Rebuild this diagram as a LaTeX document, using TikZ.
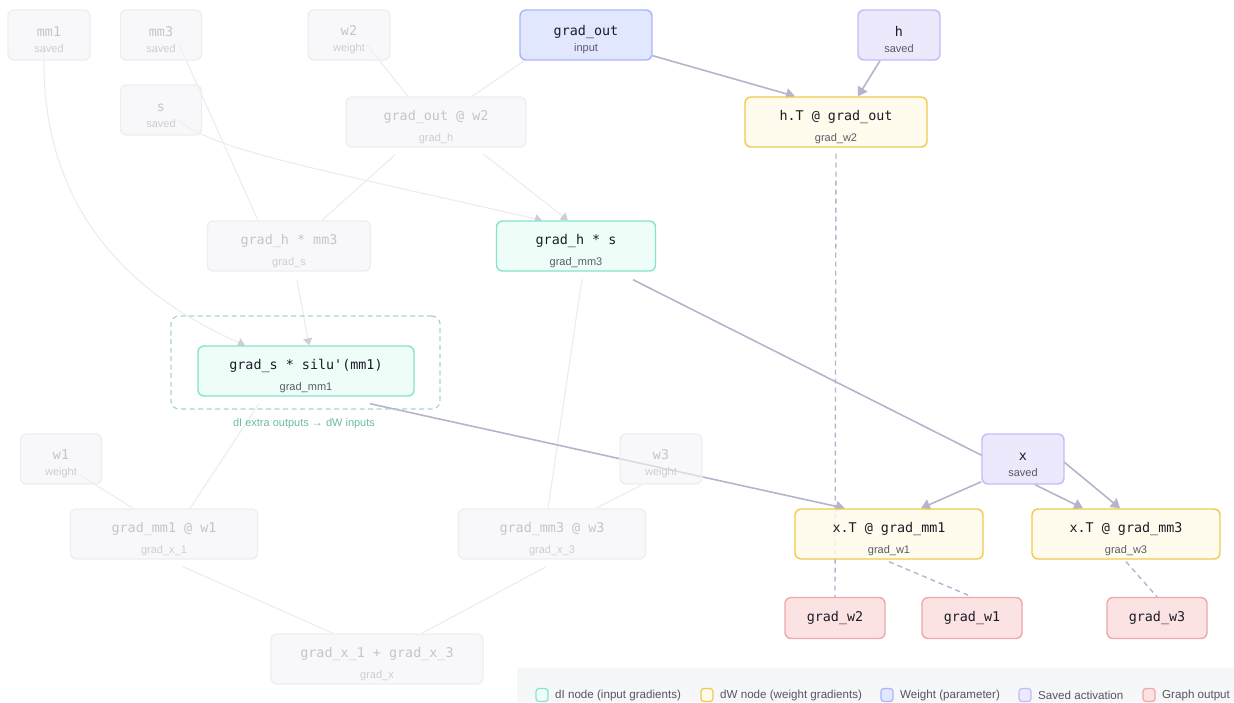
\documentclass[tikz,border=0pt]{standalone}
\usepackage{fontspec}
\setmainfont{Liberation Sans}
\setmonofont{DejaVu Sans Mono}
\usetikzlibrary{arrows.meta}

\definecolor{cDiLine}{HTML}{86E3CD}
\definecolor{cDiFill}{HTML}{EFFDF8}
\definecolor{cDwLine}{HTML}{F2C94F}
\definecolor{cDwFill}{HTML}{FFFBEA}
\definecolor{cWtLine}{HTML}{A8B5FA}
\definecolor{cWtFill}{HTML}{E1E7FE}
\definecolor{cSvLine}{HTML}{C6B8FA}
\definecolor{cSvFill}{HTML}{EDE9FD}
\definecolor{cGoLine}{HTML}{EFA8A8}
\definecolor{cGoFill}{HTML}{FCE3E3}
\definecolor{cFdLine}{HTML}{EEEEF2}
\definecolor{cFdFill}{HTML}{F4F4F7}
\definecolor{cFdText}{HTML}{C4C4CA}
\definecolor{cFdSub}{HTML}{CDCDD2}
\definecolor{cEdge}{HTML}{B4B4CC}
\definecolor{cFdEdge}{HTML}{ECECEF}
\definecolor{cFdTip}{HTML}{CDCDDA}
\definecolor{cInk}{HTML}{1C1C28}
\definecolor{cSub}{HTML}{5A5A66}
\definecolor{cGrp}{HTML}{A9D4C9}
\definecolor{cCap}{HTML}{6BBBA5}
\definecolor{cLegBg}{HTML}{F6F7F9}
\definecolor{cLegText}{HTML}{55555F}

\newcommand{\monof}{\fontsize{13.4}{16}\selectfont\ttfamily}
\newcommand{\subf}{\fontsize{11}{13}\selectfont\rmfamily}
\newcommand{\legf}{\fontsize{11.6}{14}\selectfont\rmfamily}
\newcommand{\subc}{cSub}
% two-line node label: code on top, tensor name below
\newcommand{\nlab}[3][5pt]{\rule{0pt}{19.5pt}#2\\[#1]{\subf\color{\subc}#3}}

\pgfdeclarelayer{edges}
\pgfsetlayers{edges,main}

\begin{document}
\begin{tikzpicture}[x=1pt, y=-1pt,
  box/.style={rounded corners=6pt, line width=1.4pt, minimum height=50pt,
    inner sep=0pt, align=center, font=\monof, text=cInk},
  dinode/.style={box, draw=cDiLine, fill=cDiFill},
  dwnode/.style={box, draw=cDwLine, fill=cDwFill, fill opacity=0.85, text opacity=1},
  wtnode/.style={box, draw=cWtLine, fill=cWtFill},
  svnode/.style={box, draw=cSvLine, fill=cSvFill},
  gonode/.style={box, draw=cGoLine, fill=cGoFill, minimum height=41pt, minimum width=100pt},
  fdnode/.style={box, draw=cFdLine, fill=cFdFill, fill opacity=0.6, text opacity=1,
    text=cFdText, execute at begin node={\def\subc{cFdSub}}},
  fdedge/.style={draw=cFdEdge, line width=1.1pt},
  fdarr/.style={fdedge, -{Triangle[width=9pt,length=7pt,color=cFdTip]}},
  flow/.style={draw=cEdge, line width=1.6pt, -{Triangle[width=11pt,length=9pt]}},
  dashflow/.style={draw=cEdge, line width=1.4pt, dash pattern=on 5pt off 4pt},
  ]
\useasboundingbox (0,0) rectangle (1234,702);

% faded forward-side nodes
\node[fdnode, minimum width=82pt] (mm1) at (49,35) {\nlab[0pt]{mm1}{saved}};
\node[fdnode, minimum width=81pt] (mm3) at (161,35) {\nlab[0pt]{mm3}{saved}};
\node[fdnode, minimum width=82pt] (w2) at (349,35) {\nlab[0pt]{w2}{weight}};
\node[fdnode, minimum width=81pt] (s) at (161,110) {\nlab[0pt]{s}{saved}};
\node[fdnode, minimum width=180pt] (gow2) at (436,122) {\nlab{grad\_out @ w2}{grad\_h}};
\node[fdnode, minimum width=163pt] (ghmm3) at (289,246) {\nlab{grad\_h * mm3}{grad\_s}};
\node[fdnode, minimum width=81pt] (w1) at (61,459) {\nlab[0pt]{w1}{weight}};
\node[fdnode, minimum width=82pt] (w3) at (661,459) {\nlab[0pt]{w3}{weight}};
\node[fdnode, minimum width=187pt] (gmm1w1) at (164,534) {\nlab{grad\_mm1 @ w1}{grad\_x\_1}};
\node[fdnode, minimum width=187pt] (gmm3w3) at (552,534) {\nlab{grad\_mm3 @ w3}{grad\_x\_3}};
\node[fdnode, minimum width=212pt] (gx) at (377,659) {\nlab{grad\_x\_1 + grad\_x\_3}{grad\_x}};

% inputs and saved activations
\node[wtnode, minimum width=132pt] (gout) at (586,35) {\nlab[0pt]{grad\_out}{input}};
\node[svnode, minimum width=82pt] (h) at (899,35) {\nlab[0pt]{h}{saved}};
\node[svnode, minimum width=82pt] (x) at (1023,459) {\nlab[0pt]{x}{saved}};

% dI / dW nodes
\node[dwnode, minimum width=182pt] (hT) at (836,122) {\nlab{h.T @ grad\_out}{grad\_w2}};
\node[dinode, minimum width=159pt] (ghs) at (576,246) {\nlab{grad\_h * s}{grad\_mm3}};
\node[draw=cGrp, dash pattern=on 5pt off 3.5pt, line width=1.2pt, rounded corners=8pt,
  minimum width=269pt, minimum height=93pt] (grp) at (305.5,362.5) {};
\node[dinode, minimum width=216pt] (gsilu) at (306,371) {\nlab{grad\_s * silu'(mm1)}{grad\_mm1}};
\node[font=\subf, text=cCap] (cap) at (304,424) {dI extra outputs → dW inputs};
\node[dwnode, minimum width=188pt] (xTmm1) at (889,534) {\nlab{x.T @ grad\_mm1}{grad\_w1}};
\node[dwnode, minimum width=188pt] (xTmm3) at (1126,534) {\nlab{x.T @ grad\_mm3}{grad\_w3}};

% graph outputs
\node[gonode] (gw2) at (835,618) {grad\_w2};
\node[gonode] (gw1) at (972,618) {grad\_w1};
\node[gonode] (gw3) at (1157,618) {grad\_w3};

\begin{pgfonlayer}{edges}
  % faded edges
  \draw[fdarr] ([xshift=-5pt,yshift=-15pt]mm1.center) .. controls (40,200) and (120,290) .. ([xshift=-61pt]gsilu.north);
  \draw[fdedge] ([xshift=17pt,yshift=-7pt]mm3.center) -- ([xshift=-31pt]ghmm3.north);
  \draw[fdarr] ([xshift=17pt,yshift=-10pt]s.center) .. controls (215,150) and (300,165) .. ([xshift=-34pt]ghs.north);
  \draw[fdedge] ([xshift=18pt,yshift=-10pt]w2.center) -- ([xshift=-28pt]gow2.north);
  \draw[fdedge] ([xshift=5pt]gout.south west) -- ([xshift=36pt]gow2.north);
  \draw[fdedge] ([xshift=-41pt,yshift=-7pt]gow2.south) -- ([xshift=33pt]ghmm3.north);
  \draw[fdarr] ([xshift=47pt,yshift=-6pt]gow2.south) -- ([xshift=-8pt]ghs.north);
  \draw[fdarr] ([xshift=8pt,yshift=-8pt]ghmm3.south) -- ([xshift=3pt]gsilu.north);
  \draw[fdedge] ([xshift=6pt,yshift=-7pt]ghs.south) -- ([xshift=-4pt]gmm3w3.north);
  \draw[fdedge] ([xshift=-47pt,yshift=-7pt]gsilu.south) -- ([xshift=26pt]gmm1w1.north);
  \draw[fdedge] ([xshift=19pt,yshift=-16pt]w1.center) -- ([xshift=-31pt]gmm1w1.north);
  \draw[fdedge] ([xshift=-19pt]w3.south) -- ([xshift=44pt]gmm3w3.north);
  \draw[fdedge] ([xshift=19pt,yshift=-7pt]gmm1w1.south) -- ([xshift=-44pt]gx.north);
  \draw[fdedge] ([xshift=-6pt,yshift=-7pt]gmm3w3.south) -- ([xshift=45pt]gx.north);

  % live edges
  \draw[flow] ([yshift=5pt]gout.south east) -- ([xshift=-41pt]hT.north);
  \draw[flow] ([xshift=-19pt]h.south) -- ([xshift=22pt]hT.north);
  \draw[flow] ([xshift=57pt,yshift=-8pt]ghs.south) -- ([xshift=-28pt,yshift=-3pt]x.center)
    -- ([xshift=35pt,yshift=2pt]x.center) -- ([xshift=-6pt]xTmm3.north);
  \draw[flow] ([xshift=64pt,yshift=-7pt]gsilu.south) -- ([xshift=-44pt]xTmm1.north);
  \draw[flow] ([yshift=3pt]x.south west) -- ([xshift=32pt]xTmm1.north);
  \draw[flow] ([xshift=12pt]x.south) -- ([xshift=-43pt]xTmm3.north);

  % weight gradients to outputs
  \draw[dashflow] ([yshift=-6pt]hT.south) -- (gw2.north);
  \draw[dashflow] ([yshift=-2pt]xTmm1.south) -- (gw1.north);
  \draw[dashflow] ([yshift=-2pt]xTmm3.south) -- (gw3.north);
\end{pgfonlayer}

% legend
\fill[cLegBg] (517,668) rectangle (1234,702);
\foreach \sx/\ln/\lf/\txt [count=\i] in {542/cDiLine/cDiFill/{dI node (input gradients)},
    707/cDwLine/cDwFill/{dW node (weight gradients)},
    887/cWtLine/cWtFill/{Weight (parameter)},
    1025/cSvLine/cSvFill/{Saved activation},
    1149/cGoLine/cGoFill/{Graph output}}{
  \node[draw=\ln, fill=\lf, rounded corners=3pt, line width=1.2pt, minimum width=12pt,
    minimum height=13pt, inner sep=0pt] (sw\i) at (\sx,695) {};
  \node[anchor=west, font=\legf, text=cLegText, inner sep=0pt] (lt\i) at (\sx+13,695) {\txt};
}

\end{tikzpicture}
\end{document}
